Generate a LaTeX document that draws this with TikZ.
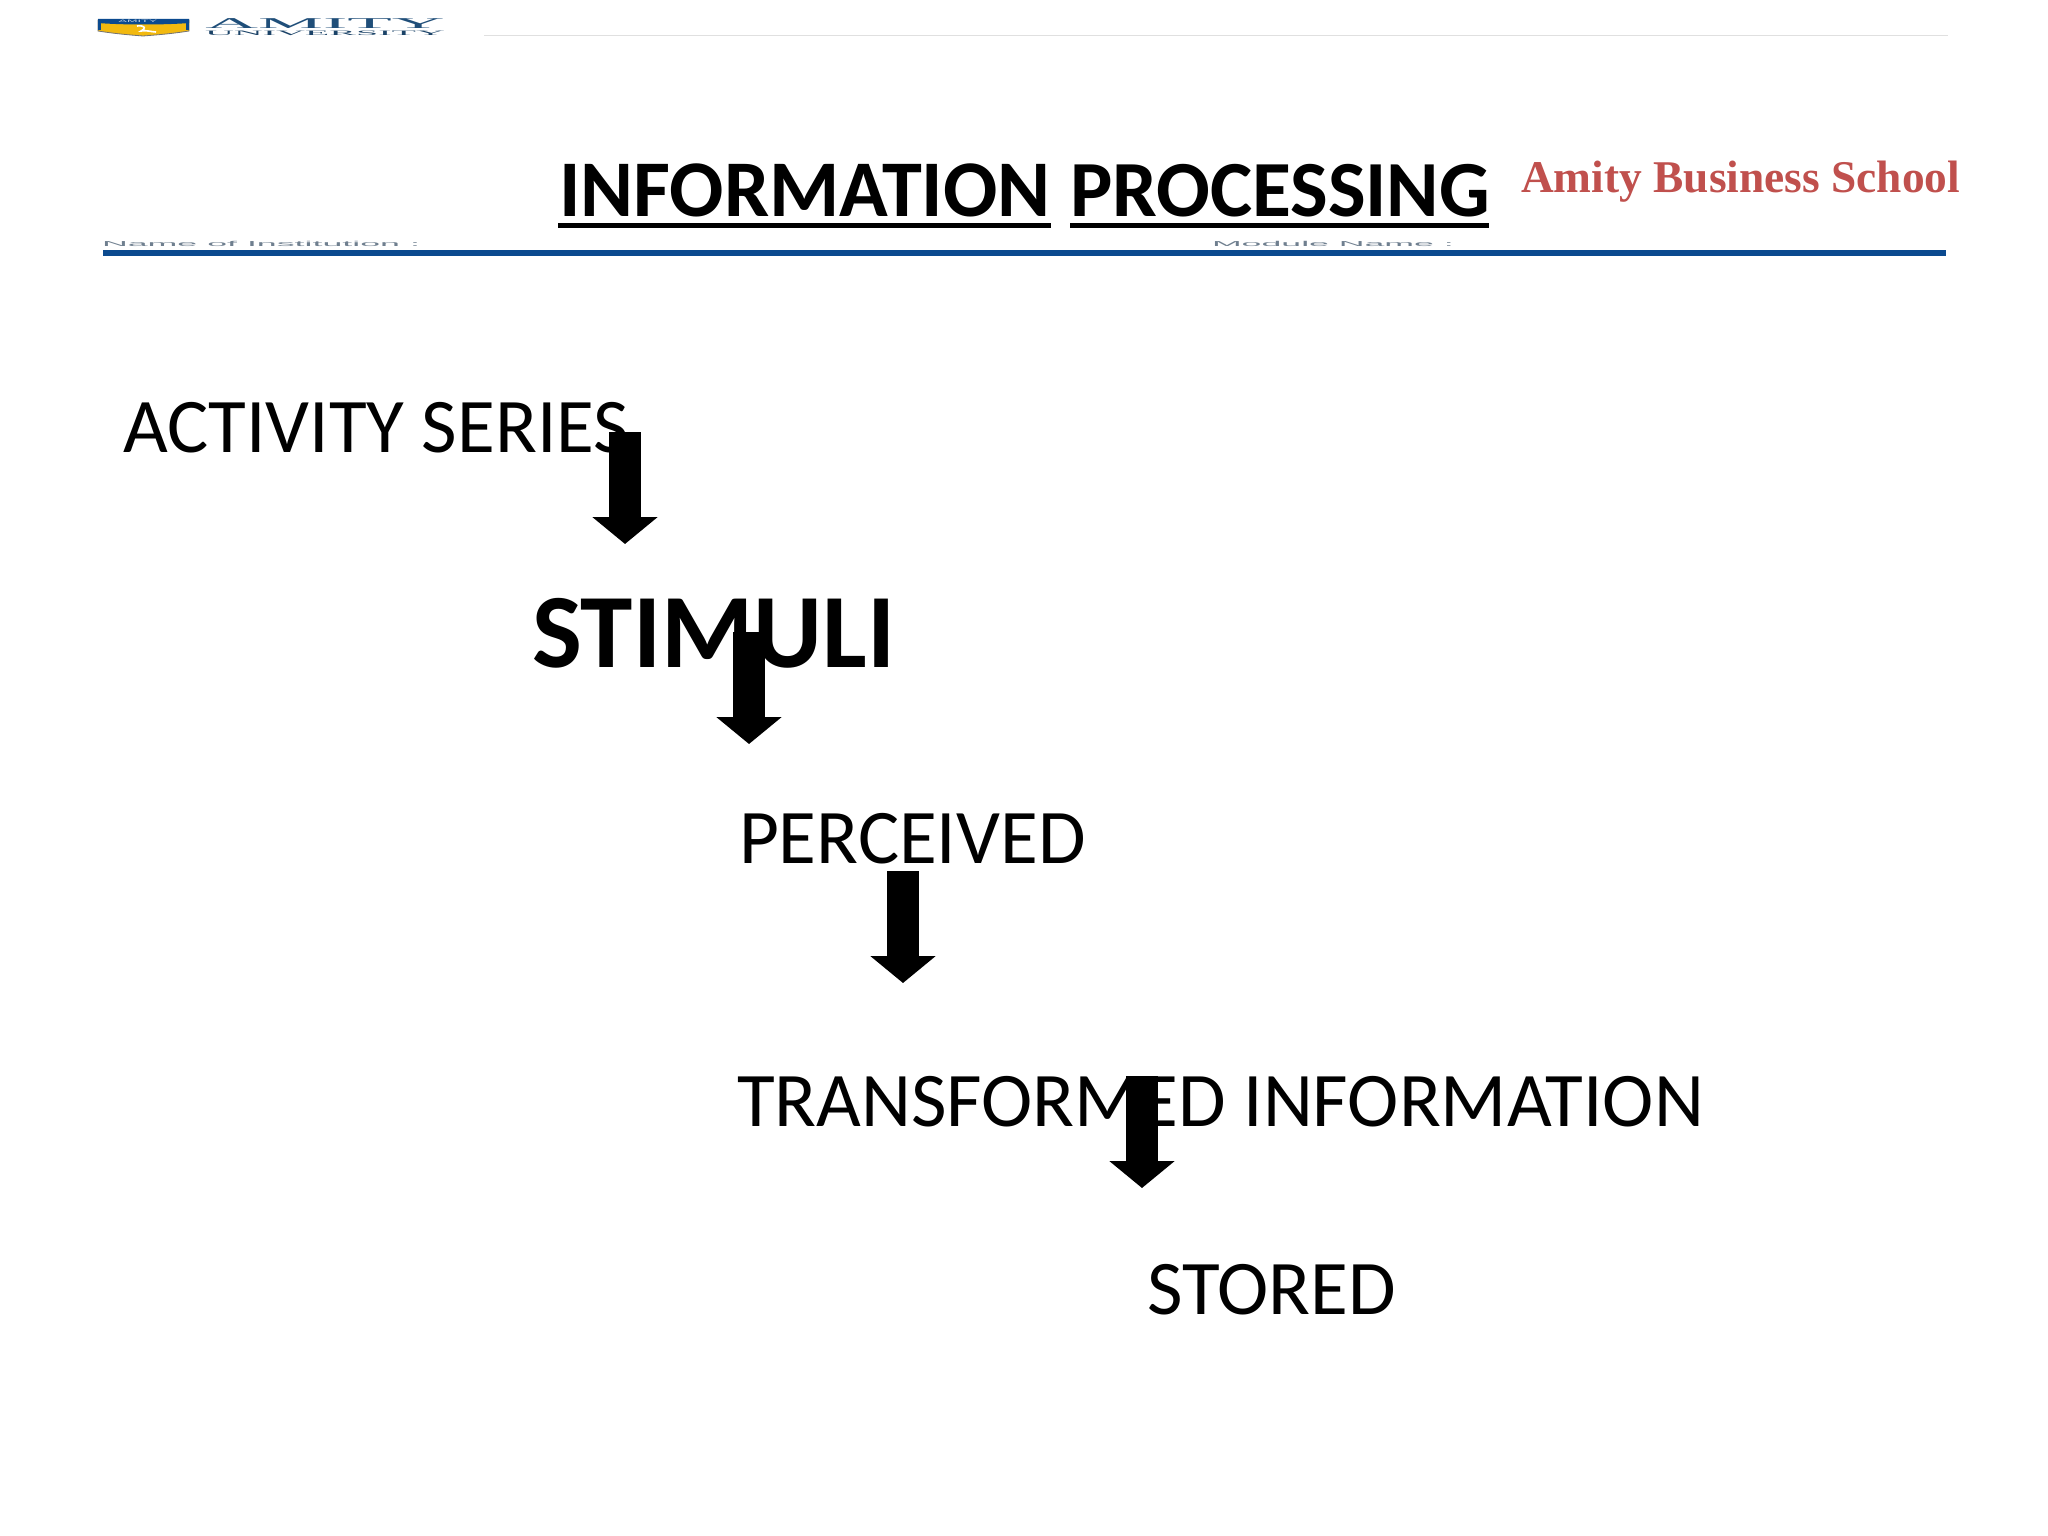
\documentclass[tikz,border=0pt]{standalone}
\usepackage{fontspec}
\setmainfont{Carlito}
\newfontfamily\serifbody{Liberation Serif}
\newfontfamily\widesans{Liberation Sans}
\usetikzlibrary{arrows.meta}
\definecolor{amityblue}{HTML}{0B4A8F}
\definecolor{amityred}{HTML}{C0504D}
\definecolor{amitygold}{HTML}{F2B90F}
\definecolor{amitynavy}{HTML}{1F4E79}
\definecolor{capgray}{HTML}{6F7F8F}
\tikzset{
  x=1pt,y=-1pt,
  label/.style={anchor=base west,inner sep=0pt,outer sep=0pt,text=black,font=\fontsize{77.3}{77}\selectfont},
  titleword/.style={anchor=base west,inner sep=0pt,outer sep=0pt,text=black,font=\fontsize{80}{80}\selectfont\bfseries},
  titlerule/.style={line width=5pt,black},
  blockarrow/.style={line width=32pt,black,-{Triangle[length=27pt,width=64pt]}},
  captiontext/.style={anchor=base west,inner sep=0pt,outer sep=0pt,text=capgray,font=\widesans\fontsize{8}{8}\selectfont,transform shape},
}
\begin{document}
\begin{tikzpicture}
\useasboundingbox (0,0) rectangle (2048,1536);
\fill[white] (0,0) rectangle (2048,1536);
% logo
\fill[amitygold,draw=black!55,line width=0.8pt] (98,20) -- (189,20) -- (189,31) .. controls (170,34) and (155,35) .. (143,36) .. controls (131,35) and (117,34) .. (98,31) -- cycle;
\fill[amityblue] (98,19) -- (189,19) -- (189,23) .. controls (165,25) and (122,25) .. (98,23) -- cycle;
\fill[amityblue] (98,23) rectangle (101,30);
\fill[amityblue] (186,23) rectangle (189,30);
\draw[white,line width=1.6pt] (137,26) .. controls (146,25) and (146,29) .. (141,31) .. controls (147,30) and (152,32) .. (156,32);
\node[anchor=base west,inner sep=0pt,text=white!75!amityblue,font=\widesans\fontsize{3.5}{4}\selectfont,xscale=3.6,transform shape] (logoc) at (118,23) {AMITY};
\node[anchor=base west,inner sep=0pt,text=amitynavy,font=\serifbody\fontsize{10}{10}\selectfont,xscale=7.3,yscale=1.5,transform shape] (logoa) at (204,29) {AMITY};
\node[anchor=base west,inner sep=0pt,text=amitynavy!85!black,font=\serifbody\fontsize{8}{8}\selectfont,xscale=5.0,yscale=0.85,transform shape] (logob) at (204,35.5) {UNIVERSITY};
\coordinate (ruleA) at (484,36);
\coordinate (ruleB) at (1948,36);
\draw[line width=1pt,black!12] (ruleA) -- (ruleB);
% title
\node[titleword,font=\fontsize{80.4}{80}\selectfont\bfseries] (t1) at (559,216) {INFORMATION};
\node[titleword,font=\fontsize{79.6}{80}\selectfont\bfseries] (t2) at (1070,216) {PROCESSING};
\coordinate (u1a) at (558,225);\coordinate (u1b) at (1051,225);
\coordinate (u2a) at (1070,225);\coordinate (u2b) at (1489,225);
\draw[titlerule] (u1a) -- (u1b);
\draw[titlerule] (u2a) -- (u2b);
\node[anchor=base west,inner sep=0pt,text=amityred,font=\serifbody\bfseries\fontsize{45.4}{45}\selectfont] (abs) at (1521,192) {Amity Business School};
% header band
\node[captiontext,xscale=4.47,yscale=0.9] (nameinst) at (102,246) {Name of Institution :};
\node[captiontext,xscale=4.46,yscale=0.9] (modname) at (1212,246) {Module Name :};
\coordinate (bandA) at (103,253);\coordinate (bandB) at (1946,253);
\draw[line width=6pt,amityblue] (bandA) -- (bandB);
% labels
\node[label] (activity) at (123,452) {ACTIVITY SERIES};
\node[label,font=\fontsize{105.5}{105}\selectfont\bfseries] (stimuli) at (532,667) {STIMULI};
\node[label] (perceived) at (739,863) {PERCEIVED};
\node[label] (transformed) at (737,1126) {TRANSFORMED INFORMATION};
\node[label] (stored) at (1147,1314) {STORED};
% arrows
\coordinate (a1s) at (625,432);\coordinate (a1e) at (625,544);
\coordinate (a2s) at (749,632);\coordinate (a2e) at (749,744);
\coordinate (a3s) at (903,871);\coordinate (a3e) at (903,983);
\coordinate (a4s) at (1142,1076);\coordinate (a4e) at (1142,1188);
\draw[blockarrow] (a1s) -- (a1e);
\draw[blockarrow] (a2s) -- (a2e);
\draw[blockarrow] (a3s) -- (a3e);
\draw[blockarrow] (a4s) -- (a4e);
\end{tikzpicture}
\end{document}
